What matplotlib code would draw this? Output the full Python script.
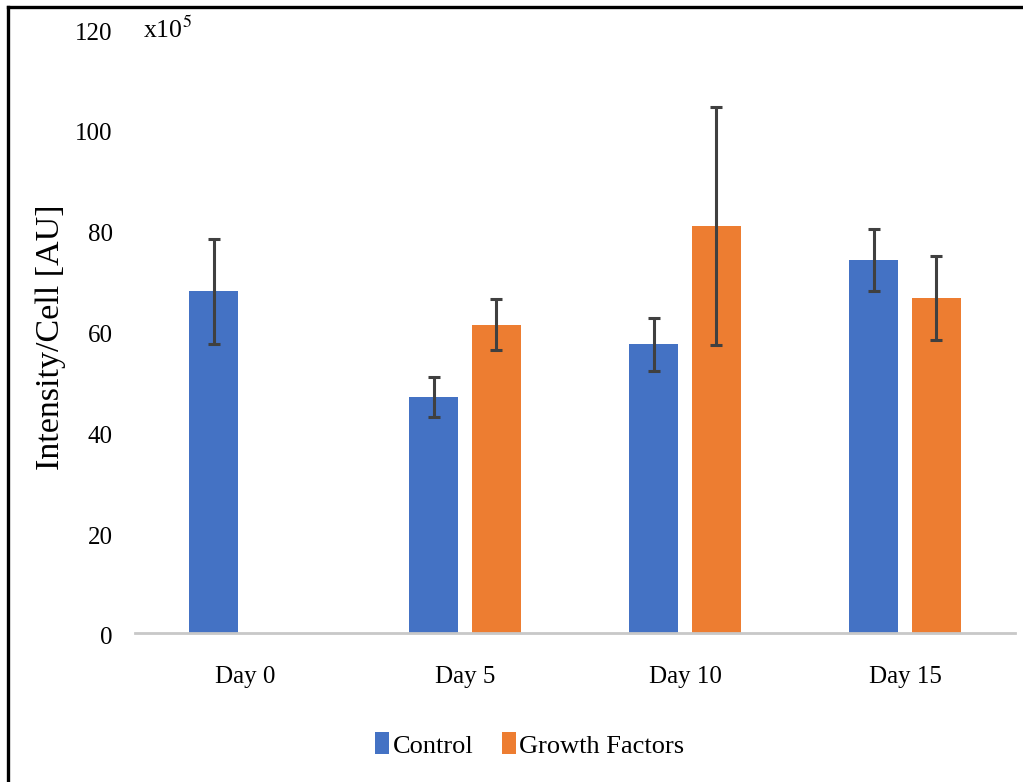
import matplotlib
matplotlib.use("Agg")
import matplotlib.pyplot as plt
from matplotlib.lines import Line2D
import matplotlib.transforms as mtransforms
import numpy as np

plt.rcParams['font.family'] = ['Liberation Serif', 'DejaVu Serif']

categories = ["Day 0", "Day 5", "Day 10", "Day 15"]
control = [67.8, 46.8, 57.3, 74.0]
control_err = [10.4, 3.95, 5.25, 6.15]
growth = [np.nan, 61.1, 80.8, 66.5]
growth_err = [np.nan, 5.05, 23.6, 8.35]
yticks = [0, 20, 40, 60, 80, 100, 120]

W, H = 1023, 782
fig = plt.figure(figsize=(W / 100, H / 100), dpi=100)
ax = fig.add_axes([135 / W, 1 - 633 / H, (1015 - 135) / W, (633 - 28) / H])

x = np.arange(len(categories))
bw = 0.223
off = 0.143
err_kw = dict(ecolor="#404040", elinewidth=2.2, capsize=4, capthick=2.2)
ax.bar(x - off, control, bw, yerr=control_err, color="#4472C4", label="Control",
       error_kw=err_kw, zorder=2)
ax.bar(x + off, growth, bw, yerr=growth_err, color="#ED7D31", label="Growth Factors",
       error_kw=err_kw, zorder=2)

ax.set_xlim(-0.5, len(categories) - 0.5)
ax.set_ylim(0, 120)
ax.set_yticks(yticks)
ax.set_xticks(x)
ax.set_xticklabels(categories)
for s in ["left", "right", "top"]:
    ax.spines[s].set_visible(False)
ax.spines["bottom"].set_color("#C8C8C8")
ax.spines["bottom"].set_linewidth(2.0)
ax.tick_params(axis="y", length=0, pad=16, labelsize=18)
ax.tick_params(axis="x", length=0, pad=24, labelsize=18)
shift = mtransforms.ScaledTranslation(0, -3 / 100, fig.dpi_scale_trans)
for lbl in ax.get_yticklabels():
    lbl.set_transform(lbl.get_transform() + shift)

ax.set_ylabel("Intensity/Cell [AU]", fontsize=24.5)
ax.yaxis.set_label_coords((66 - 135) / (1015 - 135), (633 - 337) / (633 - 28))

fig.text(143 / W, 1 - 30 / H, r"x10$^{5}$", fontsize=18.5, ha="left", va="center",
         math_fontfamily="stix")

fig.legend(loc="center", bbox_to_anchor=(530 / W, 1 - 745 / H), ncol=2,
           frameon=False, fontsize=19, handlelength=0.5, handleheight=0.9,
           handletextpad=0.15, columnspacing=1.1)

# frame lines (top and left only)
fig.add_artist(Line2D([8 / W, 1], [1 - 7 / H, 1 - 7 / H], color="black", lw=2.4,
                      transform=fig.transFigure))
fig.add_artist(Line2D([8 / W, 8 / W], [0, 1 - 7 / H], color="black", lw=2.4,
                      transform=fig.transFigure))

fig.savefig("out.png", dpi=100)
